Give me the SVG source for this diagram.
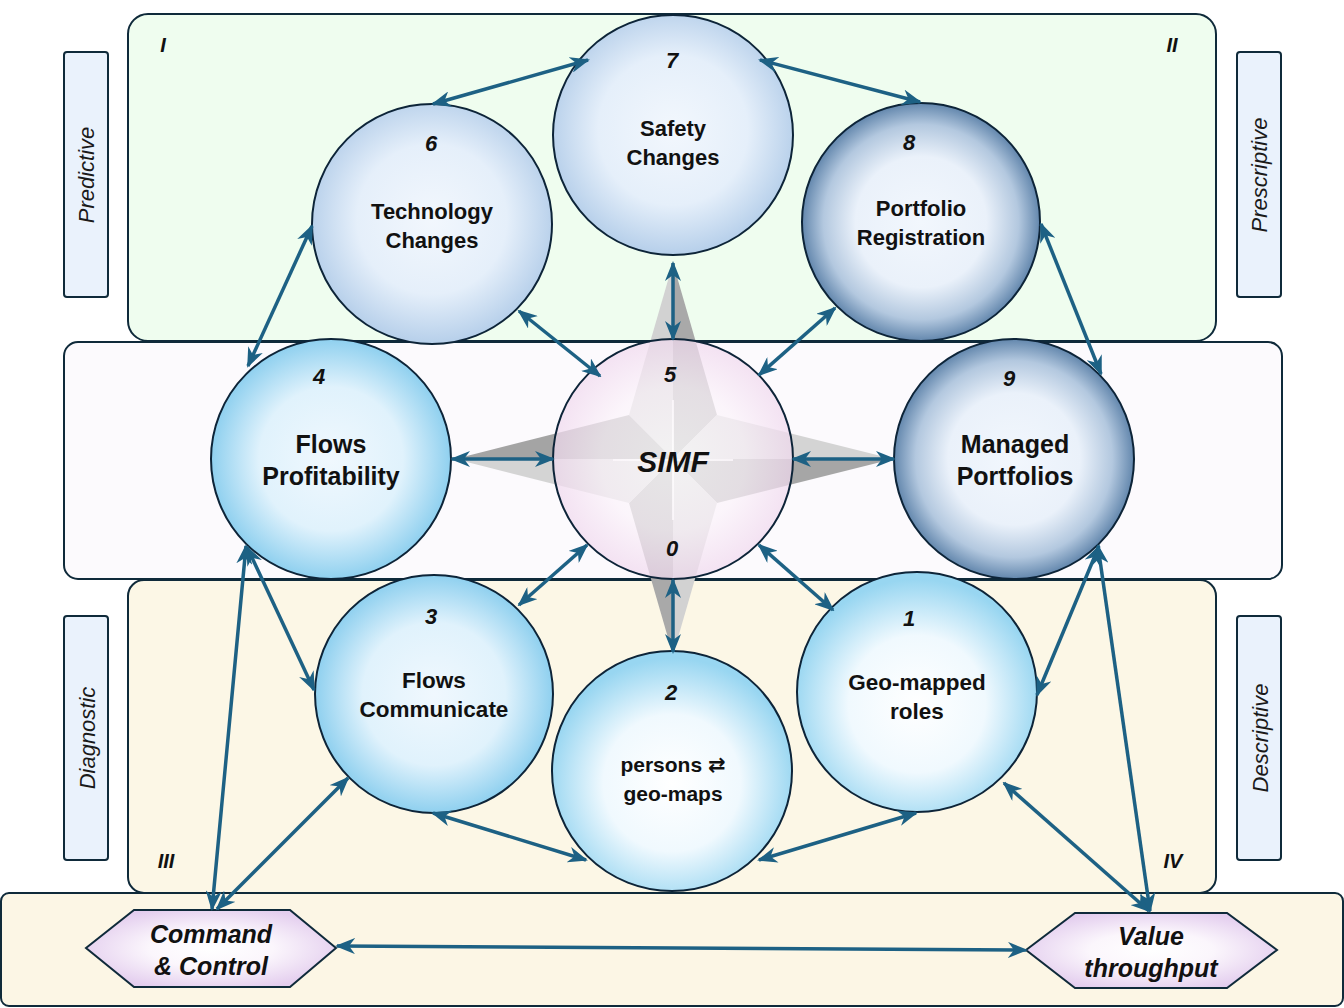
<svg xmlns="http://www.w3.org/2000/svg" width="1344" height="1008" viewBox="0 0 1344 1008">
<defs>
  <radialGradient id="gPale" cx="50%" cy="48%" r="52%">
    <stop offset="0" stop-color="#f2f7fd"/>
    <stop offset="0.6" stop-color="#e5effa"/>
    <stop offset="1" stop-color="#b6cfea"/>
  </radialGradient>
  <radialGradient id="gSteel" cx="50%" cy="50%" r="50%">
    <stop offset="0" stop-color="#f2f7fd"/>
    <stop offset="0.55" stop-color="#eaf1fa"/>
    <stop offset="0.82" stop-color="#b3c8df"/>
    <stop offset="1" stop-color="#6387ad"/>
  </radialGradient>
  <radialGradient id="gCyan" cx="50%" cy="50%" r="50%">
    <stop offset="0" stop-color="#f0f8fe"/>
    <stop offset="0.6" stop-color="#e0f2fc"/>
    <stop offset="1" stop-color="#8fd0ef"/>
  </radialGradient>
  <radialGradient id="gCyanW" cx="50%" cy="55%" r="52%">
    <stop offset="0" stop-color="#ffffff"/>
    <stop offset="0.55" stop-color="#f0f9fe"/>
    <stop offset="1" stop-color="#98d6f1"/>
  </radialGradient>
  <radialGradient id="gPink" cx="50%" cy="50%" r="50%">
    <stop offset="0" stop-color="#ffffff"/>
    <stop offset="0.6" stop-color="#fbf3fa"/>
    <stop offset="1" stop-color="#f0d9ee"/>
  </radialGradient>
  <radialGradient id="gHex" cx="50%" cy="50%" r="55%">
    <stop offset="0" stop-color="#ffffff"/>
    <stop offset="0.45" stop-color="#fbf6fc"/>
    <stop offset="1" stop-color="#e3cdee"/>
  </radialGradient>
  <marker id="ah" viewBox="0 0 20 16" refX="18" refY="8" markerWidth="20" markerHeight="16" markerUnits="userSpaceOnUse" orient="auto-start-reverse">
    <path d="M0,0 L20,8 L0,16 L6,8 z" fill="#1d6184"/>
  </marker>
  <style>
    .band{stroke:#0f2a3a;stroke-width:2}
    .side{fill:#eaf2fc;stroke:#0f2a3a;stroke-width:2}
    .sideT{font-family:"Liberation Sans",Arial,sans-serif;font-size:22px;font-style:italic;fill:#1a1a1a;text-anchor:middle}
    .quad{font-family:"Liberation Sans",Arial,sans-serif;font-size:20px;font-style:italic;font-weight:bold;fill:#111;text-anchor:middle}
    .circ{stroke:#0d2438;stroke-width:2}
    .num{font-family:"Liberation Sans",Arial,sans-serif;font-size:22px;font-style:italic;font-weight:bold;fill:#111;text-anchor:middle}
    .lbl{font-family:"Liberation Sans","DejaVu Sans",Arial,sans-serif;font-size:22px;font-weight:bold;fill:#111;text-anchor:middle}
    .lblM{font-family:"Liberation Sans",Arial,sans-serif;font-size:25px;font-weight:bold;fill:#111;text-anchor:middle}
    .lblL{font-family:"Liberation Sans","DejaVu Sans",Arial,sans-serif;font-size:22.5px;font-weight:bold;fill:#111;text-anchor:middle}
    .hexT{font-family:"Liberation Sans",Arial,sans-serif;font-size:25px;font-weight:bold;font-style:italic;fill:#111;text-anchor:middle}
    .con{fill:none;stroke:#1d6184;stroke-width:3.5;marker-start:url(#ah);marker-end:url(#ah)}
  </style>
</defs>

<g id="bands">
  <rect class="band" x="128" y="14" width="1088" height="327" rx="20" fill="#effdef"/>
  <rect class="band" x="64" y="342" width="1218" height="237" rx="14" fill="#fcfafd"/>
  <rect class="band" x="128" y="580" width="1088" height="313" rx="16" fill="#fcf7e6"/>
  <rect class="band" x="1" y="893" width="1342" height="113" rx="8" fill="#fcf6e5"/>
</g>

<g id="side-labels">
  <rect class="side" x="64" y="52" width="44" height="245" rx="3"/>
  <text class="sideT" transform="translate(94,175) rotate(-90)">Predictive</text>
  <rect class="side" x="1237" y="52" width="44" height="245" rx="3"/>
  <text class="sideT" transform="translate(1267,175) rotate(-90)">Prescriptive</text>
  <rect class="side" x="64" y="616" width="44" height="244" rx="3"/>
  <text class="sideT" transform="translate(95,738) rotate(-90)">Diagnostic</text>
  <rect class="side" x="1237" y="616" width="44" height="244" rx="3"/>
  <text class="sideT" transform="translate(1268,738) rotate(-90)">Descriptive</text>
</g>

<g id="quadrants">
  <text class="quad" x="163" y="52">I</text>
  <text class="quad" x="1172" y="52">II</text>
  <text class="quad" x="166" y="868">III</text>
  <text class="quad" x="1173" y="868">IV</text>
</g>

<g id="star">
  <polygon points="673,263 629,415 673,459" fill="#d2d2d2"/>
  <polygon points="673,263 717,415 673,459" fill="#a9a9a9"/>
  <polygon points="893,459 717,415 673,459" fill="#d4d4d4"/>
  <polygon points="893,459 717,503 673,459" fill="#a6a6a6"/>
  <polygon points="673,655 717,503 673,459" fill="#d2d2d2"/>
  <polygon points="673,655 629,503 673,459" fill="#a9a9a9"/>
  <polygon points="455,459 629,503 673,459" fill="#d4d4d4"/>
  <polygon points="455,459 629,415 673,459" fill="#a4a4a4"/>
  <path d="M673,400 V520 M613,460 H733" stroke="#ffffff" stroke-width="2" opacity="0.8"/>
</g>

<g id="node-7">
  <circle class="circ" cx="673" cy="135" r="120" fill="url(#gPale)"/>
  <text class="num" x="672" y="68">7</text>
  <text class="lbl" x="673" y="136">Safety</text>
  <text class="lbl" x="673" y="165">Changes</text>
</g>
<g id="node-6">
  <circle class="circ" cx="432" cy="224" r="120" fill="url(#gPale)"/>
  <text class="num" x="431" y="151">6</text>
  <text class="lbl" x="432" y="219">Technology</text>
  <text class="lbl" x="432" y="248">Changes</text>
</g>
<g id="node-8">
  <circle class="circ" cx="921" cy="222" r="119" fill="url(#gSteel)"/>
  <text class="num" x="909" y="150">8</text>
  <text class="lbl" x="921" y="216">Portfolio</text>
  <text class="lbl" x="921" y="245">Registration</text>
</g>
<g id="node-4">
  <circle class="circ" cx="331" cy="459" r="120" fill="url(#gCyan)"/>
  <text class="num" x="319" y="384">4</text>
  <text class="lblM" x="331" y="453">Flows</text>
  <text class="lblM" x="331" y="485">Profitability</text>
</g>
<g id="node-5">
  <circle class="circ" cx="673" cy="459" r="120" fill="url(#gPink)" fill-opacity="0.72"/>
  <text class="num" x="670" y="382">5</text>
  <text class="num" x="673" y="472" style="font-size:30px">SIMF</text>
  <text class="num" x="672" y="556">0</text>
</g>
<g id="node-9">
  <circle class="circ" cx="1014" cy="459" r="120" fill="url(#gSteel)"/>
  <text class="num" x="1009" y="386">9</text>
  <text class="lblM" x="1015" y="453">Managed</text>
  <text class="lblM" x="1015" y="485">Portfolios</text>
</g>
<g id="node-3">
  <circle class="circ" cx="434" cy="694" r="119" fill="url(#gCyan)"/>
  <text class="num" x="431" y="624">3</text>
  <text class="lblL" x="434" y="688">Flows</text>
  <text class="lblL" x="434" y="717">Communicate</text>
</g>
<g id="node-2">
  <circle class="circ" cx="672" cy="771" r="120" fill="url(#gCyanW)"/>
  <text class="num" x="671" y="700">2</text>
  <text class="lbl" x="673" y="772" style="font-size:21px">persons ⇄</text>
  <text class="lbl" x="673" y="801" style="font-size:21px">geo-maps</text>
</g>
<g id="node-1">
  <circle class="circ" cx="917" cy="692" r="120" fill="url(#gCyanW)"/>
  <text class="num" x="909" y="626">1</text>
  <text class="lblL" x="917" y="690">Geo-mapped</text>
  <text class="lblL" x="917" y="719">roles</text>
</g>

<g id="node-cc">
  <polygon points="86,948 134,910 290,910 336,948 290,987 134,987" fill="url(#gHex)" stroke="#0f2a3a" stroke-width="2"/>
  <text class="hexT" x="211" y="943">Command</text>
  <text class="hexT" x="211" y="975">&amp; Control</text>
</g>
<g id="node-vt">
  <polygon points="1026,950 1075,913 1227,913 1277,950 1227,988 1075,988" fill="url(#gHex)" stroke="#0f2a3a" stroke-width="2"/>
  <text class="hexT" x="1151" y="945">Value</text>
  <text class="hexT" x="1151" y="977">throughput</text>
</g>

<g id="connectors">
  <line class="con" x1="433" y1="104" x2="588" y2="60"/>
  <line class="con" x1="760" y1="60" x2="920" y2="102"/>
  <line class="con" x1="312" y1="226" x2="248" y2="366"/>
  <line class="con" x1="1041" y1="224" x2="1101" y2="374"/>
  <line class="con" x1="673" y1="263" x2="673" y2="339"/>
  <line class="con" x1="519" y1="311" x2="600" y2="376"/>
  <line class="con" x1="835" y1="308" x2="759" y2="375"/>
  <line class="con" x1="452" y1="459" x2="553" y2="459"/>
  <line class="con" x1="793" y1="459" x2="894" y2="459"/>
  <line class="con" x1="587" y1="545" x2="519" y2="605"/>
  <line class="con" x1="673" y1="580" x2="673" y2="652"/>
  <line class="con" x1="759" y1="545" x2="833" y2="610"/>
  <line class="con" x1="247" y1="547" x2="314" y2="690"/>
  <line class="con" x1="1099" y1="546" x2="1037" y2="695"/>
  <line class="con" x1="246" y1="546" x2="212" y2="909"/>
  <line class="con" x1="348" y1="778" x2="217" y2="909"/>
  <line class="con" x1="433" y1="813" x2="586" y2="860"/>
  <line class="con" x1="759" y1="860" x2="916" y2="813"/>
  <line class="con" x1="1004" y1="783" x2="1149" y2="911"/>
  <line class="con" x1="1098" y1="546" x2="1150" y2="911"/>
  <line class="con" x1="337" y1="946" x2="1026" y2="950"/>
</g>
</svg>
